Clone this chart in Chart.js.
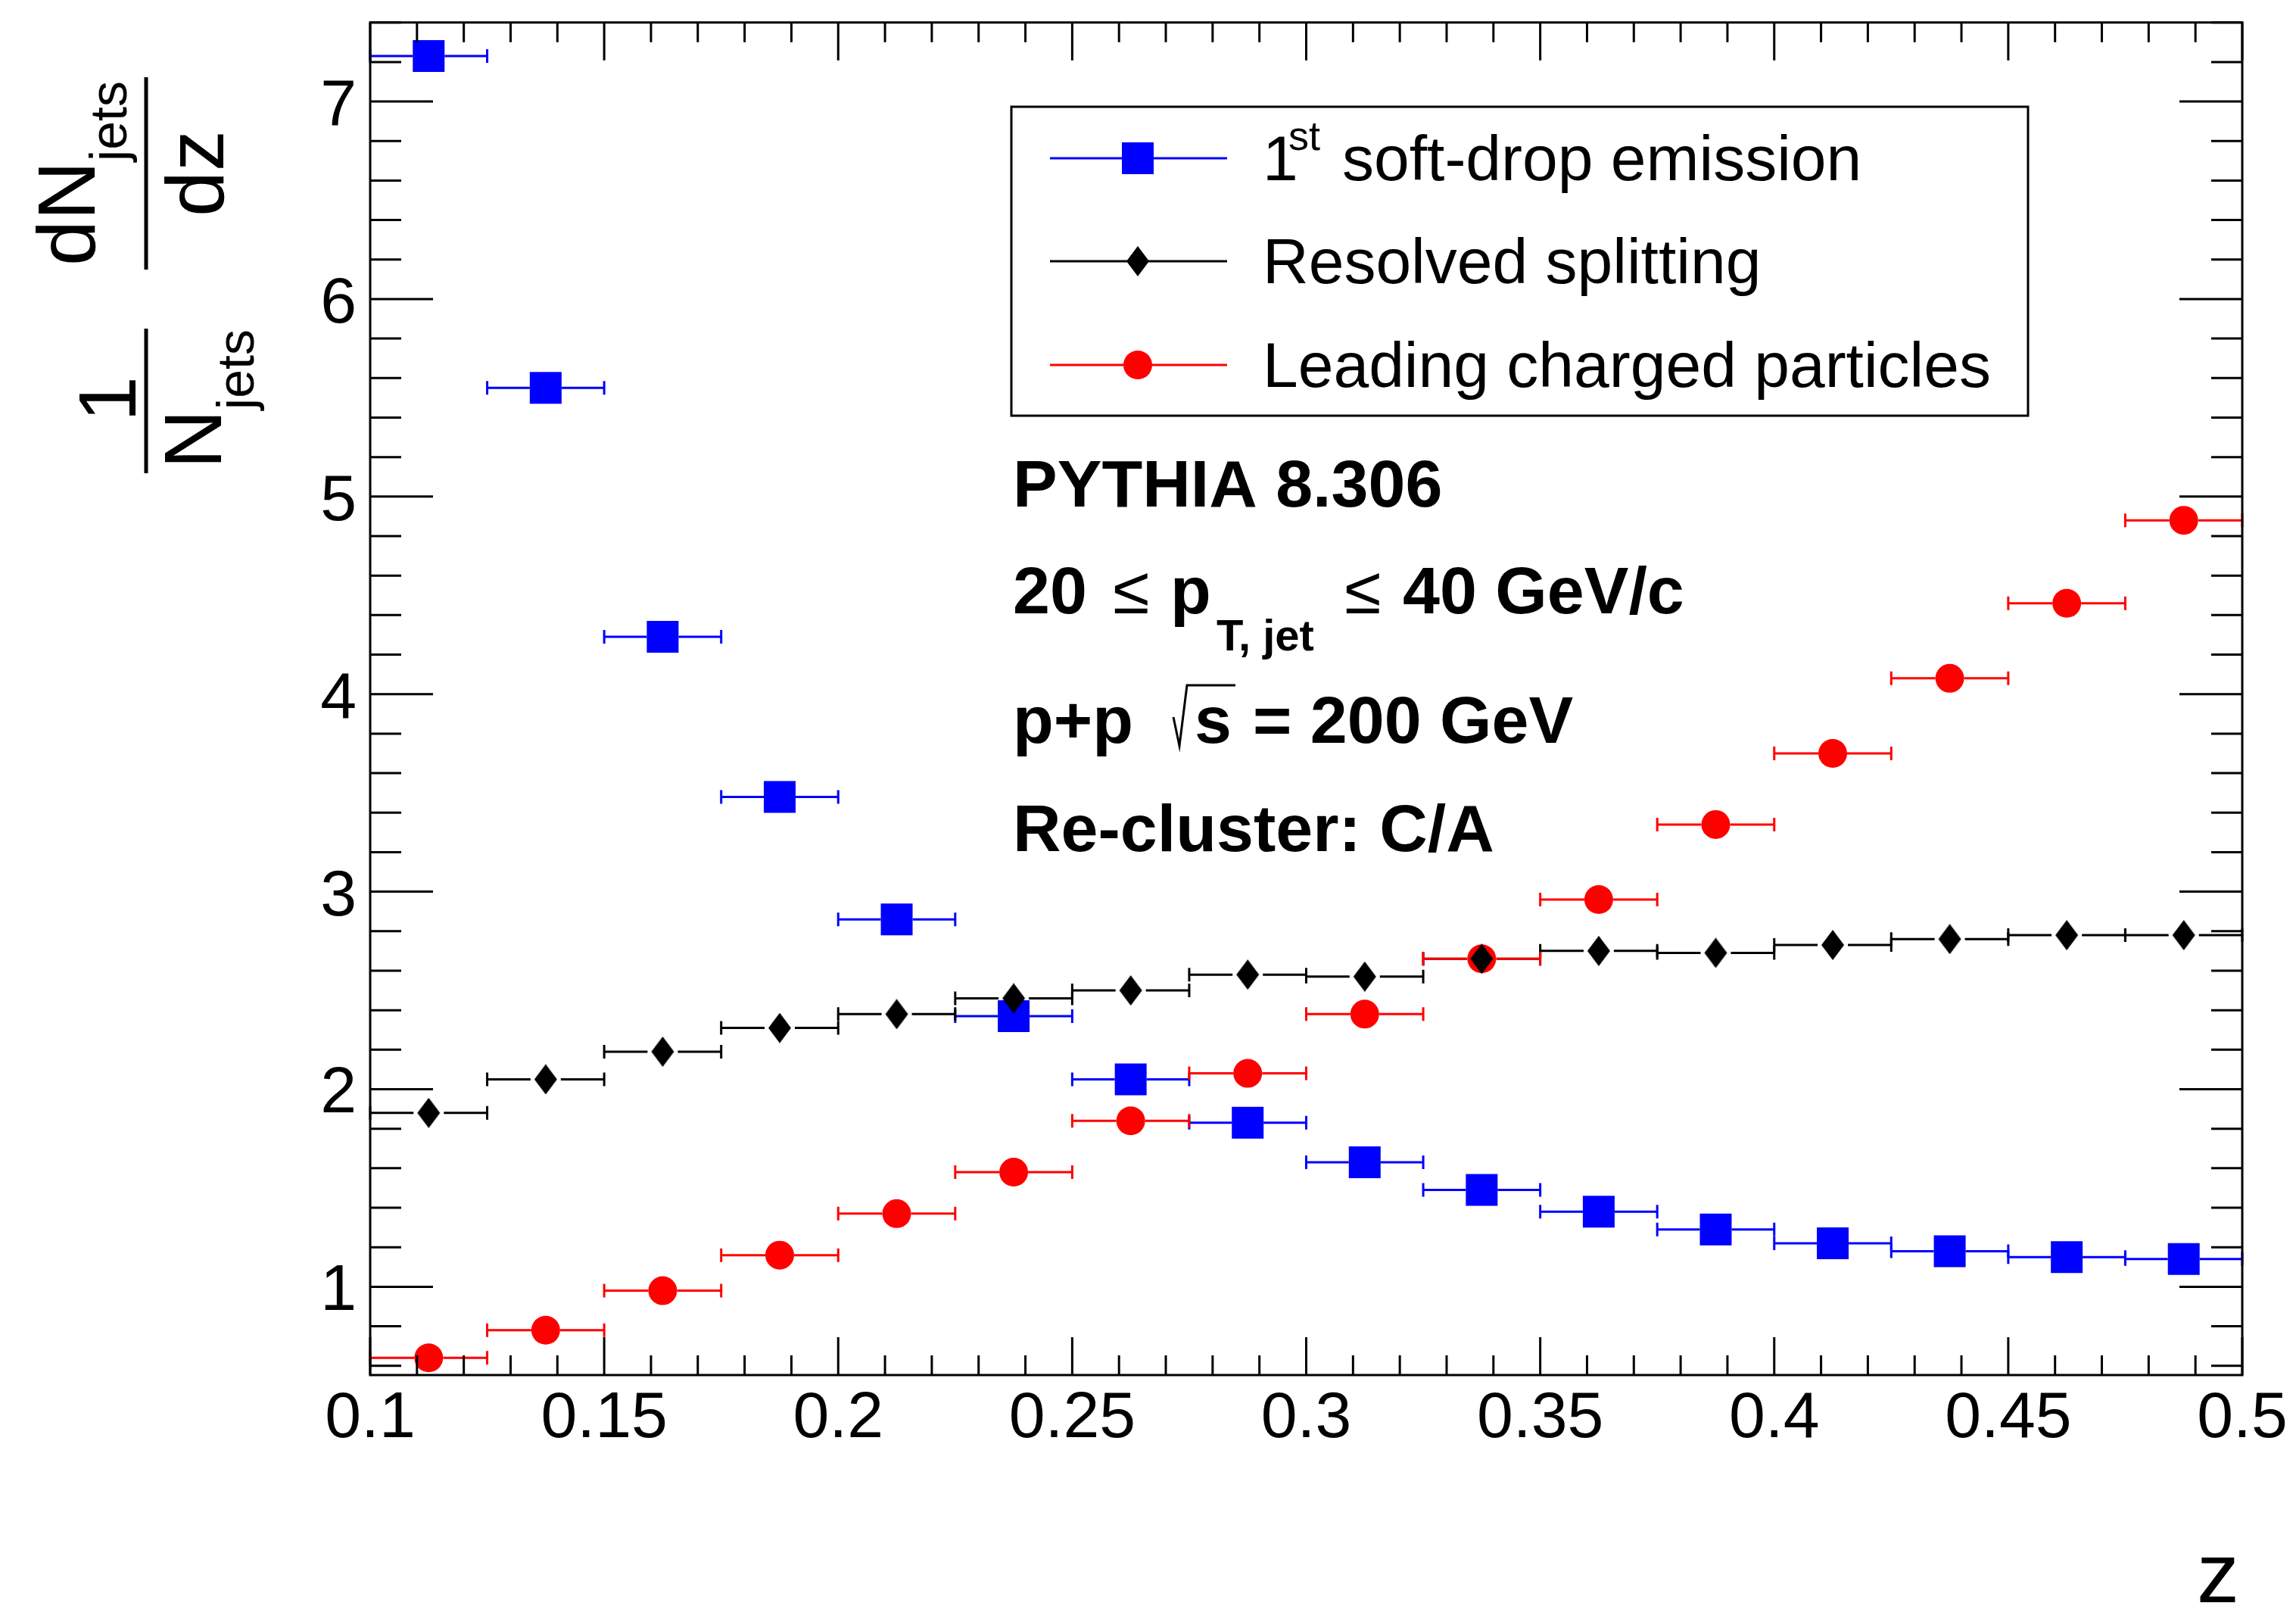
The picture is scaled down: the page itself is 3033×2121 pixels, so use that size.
<!DOCTYPE html>
<html><head><meta charset="utf-8">
<script src="https://cdn.jsdelivr.net/npm/chart.js@4.4.1/dist/chart.umd.min.js"></script>
<style>html,body{margin:0;padding:0;background:#fff;}canvas{display:block;}</style>
</head><body>
<canvas id="c" width="3033" height="2121"></canvas>
<script>
// ---- data ----
const binLow     = [0.100,0.125,0.150,0.175,0.200,0.225,0.250,0.275,0.300,0.325,0.350,0.375,0.400,0.425,0.450,0.475];
const binHigh    = [0.125,0.150,0.175,0.200,0.225,0.250,0.275,0.300,0.325,0.350,0.375,0.400,0.425,0.450,0.475,0.500];
const binCenters = [0.1125,0.1375,0.1625,0.1875,0.2125,0.2375,0.2625,0.2875,0.3125,0.3375,0.3625,0.3875,0.4125,0.4375,0.4625,0.4875];
const softDrop   = [7.23,5.55,4.29,3.48,2.86,2.37,2.05,1.83,1.63,1.49,1.38,1.29,1.22,1.18,1.15,1.14];
const resolved   = [1.88,2.05,2.19,2.31,2.38,2.46,2.50,2.58,2.57,2.66,2.70,2.69,2.73,2.76,2.78,2.78];
const leading    = [0.64,0.78,0.98,1.16,1.37,1.58,1.84,2.08,2.38,2.66,2.96,3.34,3.70,4.08,4.46,4.88];
const xTickLabels = ['0.1','0.15','0.2','0.25','0.3','0.35','0.4','0.45','0.5'];
const yTickLabels = ['1','2','3','4','5','6','7'];
const legendNames = ['soft-drop emission','Resolved splitting','Leading charged particles'];
const infoLines = ['PYTHIA 8.306','20','p+p','Re-cluster: C/A'];

const FONT = '"Liberation Sans", Arial, Helvetica, sans-serif';

// diamond marker image
const diamond = document.createElement('canvas');
diamond.width = 32; diamond.height = 40;
{ const d = diamond.getContext('2d'); d.fillStyle = '#000'; d.beginPath();
  d.moveTo(16,0); d.lineTo(31,20); d.lineTo(16,40); d.lineTo(1,20); d.closePath(); d.fill();
  d.beginPath(); d.ellipse(16,20,11,12,0,0,Math.PI*2); d.fill(); }

const series = [
  {values: softDrop, color:'#0000ff', gap:21},
  {values: resolved, color:'#000000', gap:20},
  {values: leading,  color:'#ff0000', gap:19}
];

function pts(vals){ return vals.map((v,i)=>({x:binCenters[i], y:v})); }

const errPlugin = {
  id:'errbars',
  beforeDatasetsDraw(chart){
    const ctx=chart.ctx, xs=chart.scales.x, ys=chart.scales.y;
    series.forEach(s=>{
      ctx.save(); ctx.strokeStyle=s.color; ctx.lineWidth=3;
      s.values.forEach((v,i)=>{
        const xl=xs.getPixelForValue(binLow[i]), xh=xs.getPixelForValue(binHigh[i]);
        const xc=xs.getPixelForValue(binCenters[i]), y=ys.getPixelForValue(v);
        ctx.beginPath();
        ctx.moveTo(xl,y); ctx.lineTo(xc-s.gap,y);
        ctx.moveTo(xc+s.gap,y); ctx.lineTo(xh,y);
        ctx.moveTo(xl,y-9); ctx.lineTo(xl,y+9);
        ctx.moveTo(xh,y-9); ctx.lineTo(xh,y+9);
        ctx.stroke();
      });
      ctx.restore();
    });
  }
};

function rich(ctx, x, y, parts){
  let cx = x;
  parts.forEach(p=>{
    if (p.x !== undefined) cx = p.x;
    ctx.font = p.font;
    ctx.fillText(p.t, cx, y + (p.dy||0));
    cx += ctx.measureText(p.t).width;
  });
}

const framePlugin = {
  id:'frame',
  afterDraw(chart){
    const ctx=chart.ctx, xs=chart.scales.x, ys=chart.scales.y, a=chart.chartArea;
    ctx.save();
    ctx.strokeStyle='#000'; ctx.fillStyle='#000'; ctx.lineWidth=3;
    ctx.strokeRect(a.left, a.top, a.right-a.left, a.bottom-a.top);
    ctx.beginPath();
    for (let k=0;k<=40;k++){
      const v = 0.1 + k*0.01;
      const px = xs.getPixelForValue(v);
      const len = (k%5===0) ? 50 : 26;
      ctx.moveTo(px, a.bottom); ctx.lineTo(px, a.bottom-len);
      ctx.moveTo(px, a.top); ctx.lineTo(px, a.top+len);
    }
    for (let k=3;k<=37;k++){
      const v = k*0.2;
      if (v < ys.min || v > ys.max) continue;
      const py = ys.getPixelForValue(v);
      const len = (k%5===0) ? 83 : 41;
      ctx.moveTo(a.left, py); ctx.lineTo(a.left+len, py);
      ctx.moveTo(a.right, py); ctx.lineTo(a.right-len, py);
    }
    ctx.stroke();
    ctx.font = '86px '+FONT;
    ctx.textAlign='center'; ctx.textBaseline='alphabetic';
    xTickLabels.forEach(l=>{ ctx.fillText(l, xs.getPixelForValue(parseFloat(l)), 1898); });
    ctx.textAlign='right';
    yTickLabels.forEach(l=>{ ctx.fillText(l, a.left-18, ys.getPixelForValue(parseFloat(l))+31); });
    ctx.font = '112px '+FONT; ctx.textAlign='right';
    ctx.fillText('z', a.right-4, 2116);
    ctx.save();
    ctx.rotate(-Math.PI/2);
    ctx.textAlign='left';
    const M='108px '+FONT, S='68px '+FONT;
    function centeredRich(uc, v, parts){
      let w=0; parts.forEach(p=>{ctx.font=p.font; w+=ctx.measureText(p.t).width;});
      rich(ctx, uc - w/2, v, parts);
    }
    centeredRich(-229, 125, [{t:'dN',font:M},{t:'jets',font:S,dy:42}]);
    centeredRich(-229, 295, [{t:'dz',font:M}]);
    centeredRich(-527, 179, [{t:'1',font:M}]);
    centeredRich(-527, 292, [{t:'N',font:M},{t:'jets',font:S,dy:43}]);
    ctx.lineWidth=5;
    ctx.beginPath();
    ctx.moveTo(-102,193); ctx.lineTo(-356,193);
    ctx.moveTo(-434,193); ctx.lineTo(-625,193);
    ctx.stroke();
    ctx.restore();

    const L={x1:1336,y1:141,x2:2679,y2:549};
    ctx.fillStyle='#fff'; ctx.fillRect(L.x1,L.y1,L.x2-L.x1,L.y2-L.y1);
    ctx.fillStyle='#000'; ctx.lineWidth=3; ctx.strokeRect(L.x1,L.y1,L.x2-L.x1,L.y2-L.y1);
    const rows=[209,345,482];
    series.forEach((s,i)=>{
      const y=rows[i];
      ctx.strokeStyle=s.color; ctx.lineWidth=3;
      ctx.beginPath(); ctx.moveTo(1387,y); ctx.lineTo(1621,y); ctx.stroke();
      ctx.fillStyle=s.color;
      if (i===0) ctx.fillRect(1503-21,y-21,42,42);
      else if (i===1) ctx.drawImage(diamond,1503-16,y-20);
      else { ctx.beginPath(); ctx.arc(1503,y,19,0,Math.PI*2); ctx.fill(); }
    });
    ctx.fillStyle='#000'; ctx.textAlign='left';
    const LF='84px '+FONT;
    rich(ctx, 1668, 238, [{t:'1',font:LF},{t:'st',font:'54px '+FONT,dy:-40,x:1702},{t:legendNames[0],font:LF,x:1773}]);
    ctx.font=LF;
    ctx.fillText(legendNames[1], 1668, 374);
    ctx.fillText(legendNames[2], 1668, 511);

    const B='bold 88px '+FONT, BN='88px '+FONT, BS='bold 58px '+FONT;
    ctx.font=B; ctx.fillText(infoLines[0], 1338, 669);
    rich(ctx, 1338, 810, [{t:infoLines[1],font:B},{t:'\u2264',font:BN,x:1470},{t:'p',font:B,x:1546},
      {t:'T, jet',font:BS,dy:49,x:1607},{t:'\u2264',font:BN,x:1776},{t:'40 GeV/c',font:B,x:1853}]);
    rich(ctx, 1338, 981, [{t:infoLines[2],font:B},{t:'s',font:B,x:1578},{t:'= 200 GeV',font:B,x:1655}]);
    ctx.strokeStyle='#000'; ctx.lineWidth=3;
    ctx.beginPath();
    ctx.moveTo(1550,981-34); ctx.lineTo(1558,981+4); ctx.lineTo(1568,981-76); ctx.lineTo(1632,981-76);
    ctx.stroke();
    ctx.font=B; ctx.fillText(infoLines[3], 1338, 1124);
    ctx.restore();
  }
};

new Chart(document.getElementById('c'), {
  type:'scatter',
  data:{ datasets:[
    {label:'1st soft-drop emission', data:pts(softDrop), pointStyle:'rect', pointRadius:29.7, pointHoverRadius:29.7,
     backgroundColor:'#0000ff', borderColor:'#0000ff', pointBorderWidth:0, order:2},
    {label:'Resolved splitting', data:pts(resolved), pointStyle:diamond, pointRadius:20,
     backgroundColor:'#000', borderColor:'#000', pointBorderWidth:0, order:0},
    {label:'Leading charged particles', data:pts(leading), pointStyle:'circle', pointRadius:19, pointHoverRadius:19,
     backgroundColor:'#ff0000', borderColor:'#ff0000', pointBorderWidth:0, order:1}
  ]},
  options:{
    responsive:false, animation:false, devicePixelRatio:1,
    layout:{padding:{left:489, top:23, right:3033-2962, bottom:2121-1816}},
    plugins:{legend:{display:false}, tooltip:{enabled:false}},
    events:[],
    scales:{
      x:{type:'linear', min:0.1, max:0.5, display:false},
      y:{type:'linear', min:0.553, max:7.40, display:false}
    }
  },
  plugins:[errPlugin, framePlugin]
});
</script>
</body></html>
